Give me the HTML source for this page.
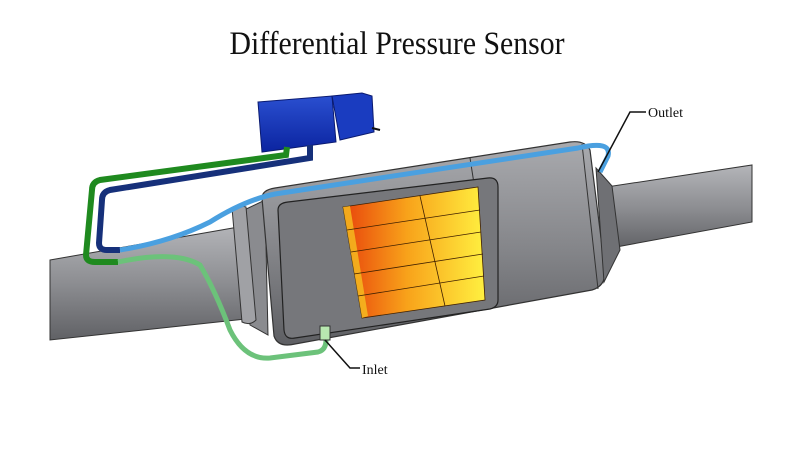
<!DOCTYPE html>
<html><head><meta charset="utf-8"><style>
html,body{margin:0;padding:0;background:#fff;width:800px;height:450px;overflow:hidden}
</style></head><body>
<svg width="800" height="450" viewBox="0 0 800 450" xmlns="http://www.w3.org/2000/svg">
<defs>
<linearGradient id="pipe" x1="0" y1="0" x2="0" y2="1">
<stop offset="0" stop-color="#b4b5b9"/><stop offset="0.5" stop-color="#8d8e92"/><stop offset="1" stop-color="#606165"/></linearGradient>
<linearGradient id="can" x1="0" y1="0" x2="0" y2="1">
<stop offset="0" stop-color="#a9aaae"/><stop offset="0.55" stop-color="#838488"/><stop offset="1" stop-color="#5e5f63"/></linearGradient>
<linearGradient id="core" x1="0" y1="0" x2="1" y2="0">
<stop offset="0" stop-color="#e8440c"/><stop offset="0.45" stop-color="#f8a21a"/><stop offset="1" stop-color="#fff040"/></linearGradient>
<linearGradient id="box" x1="0" y1="0" x2="0" y2="1">
<stop offset="0" stop-color="#2a4fd0"/><stop offset="1" stop-color="#0b24a0"/></linearGradient>
</defs>
<text x="397" y="54" text-anchor="middle" font-family="Liberation Serif, serif" font-size="33" textLength="335" lengthAdjust="spacingAndGlyphs" fill="#111">Differential Pressure Sensor</text>

<!-- right pipe -->
<polygon points="600,188 752,165 752,222 600,250" fill="url(#pipe)" stroke="#333" stroke-width="1"/>
<!-- left pipe -->
<polygon points="50,260 250,225 255,318 50,340" fill="url(#pipe)" stroke="#333" stroke-width="1"/>

<!-- flange rings -->
<path d="M240,212 L265,200 L268,335 L250,325 Z" fill="#8a8b8f" stroke="#333"/>
<path d="M232,208 Q238,204 246,207 L256,320 Q250,326 242,322 Z" fill="#a0a1a5" stroke="#333"/>
<!-- canister -->
<path d="M262,198 Q262,190 275,188 L570,142 Q585,140 590,150 L605,270 Q606,286 592,290 L295,344 Q278,348 274,336 Z" fill="url(#can)" stroke="#333" stroke-width="1.2"/>
<line x1="470" y1="158" x2="493" y2="305" stroke="#333"/>
<line x1="582" y1="144" x2="598" y2="289" stroke="#333"/>
<!-- cutaway window -->
<path d="M278,210 Q278,203 288,202 L488,178 Q498,177 498,187 L498,300 Q498,307 490,309 L295,338 Q285,340 284,330 Z" fill="#76777b" stroke="#222" stroke-width="1.2"/>
<!-- core -->
<polygon points="343,207 478,187 485,300 362,318" fill="url(#core)" stroke="#402000" stroke-width="0.8"/>
<polygon points="343,207 350,206 368,316 362,318" fill="#f5c020" opacity="0.8"/>
<g stroke="#402000" stroke-width="0.8">
<line x1="347" y1="230" x2="480" y2="210"/>
<line x1="351" y1="252" x2="481" y2="232"/>
<line x1="354" y1="274" x2="483" y2="254"/>
<line x1="358" y1="296" x2="484" y2="276"/>
<line x1="420" y1="196" x2="445" y2="306"/>
</g>
<!-- outlet cone -->
<path d="M596,168 L612,186 L620,250 L604,282 Z" fill="#6f7074" stroke="#333"/>

<!-- sensor box -->
<path d="M258,102 L332,96 L336,142 L262,152 Z" fill="url(#box)" stroke="#0a1a70"/>
<path d="M332,96 L362,93 L372,96 L374,132 L340,140 Z" fill="#1a3cc0" stroke="#0a1a70"/>
<line x1="372" y1="128" x2="380" y2="130" stroke="#111" stroke-width="2"/>

<!-- tubes -->
<path d="M287,147 L286,155 L100,180 Q92,182 92,190 L86,255 Q86,262 95,262 L118,262" fill="none" stroke="#1f8a1f" stroke-width="6"/>
<path d="M310,145 L310,158 L110,190 Q102,192 102,200 L99,243 Q99,250 107,250 L120,250" fill="none" stroke="#16307a" stroke-width="6"/>
<path d="M118,262 Q175,250 200,265 Q215,290 230,330 Q245,360 270,358 L318,352 Q326,350 326,340" fill="none" stroke="#6cc27a" stroke-width="5"/>
<path d="M120,250 Q170,242 210,222 Q245,200 275,194 L578,148 Q612,140 608,156 L600,172" fill="none" stroke="#4aa0e0" stroke-width="5"/>
<rect x="320" y="326" width="10" height="14" fill="#b8e8b0" stroke="#333"/>

<!-- labels -->
<polyline points="325,340 350,368 360,368" fill="none" stroke="#111" stroke-width="1.5"/>
<text x="362" y="374" font-family="Liberation Serif, serif" font-size="14" fill="#111">Inlet</text>
<polyline points="598,172 630,112 646,112" fill="none" stroke="#111" stroke-width="1.5"/>
<text x="648" y="117" font-family="Liberation Serif, serif" font-size="14" fill="#111">Outlet</text>
</svg>
</body></html>
